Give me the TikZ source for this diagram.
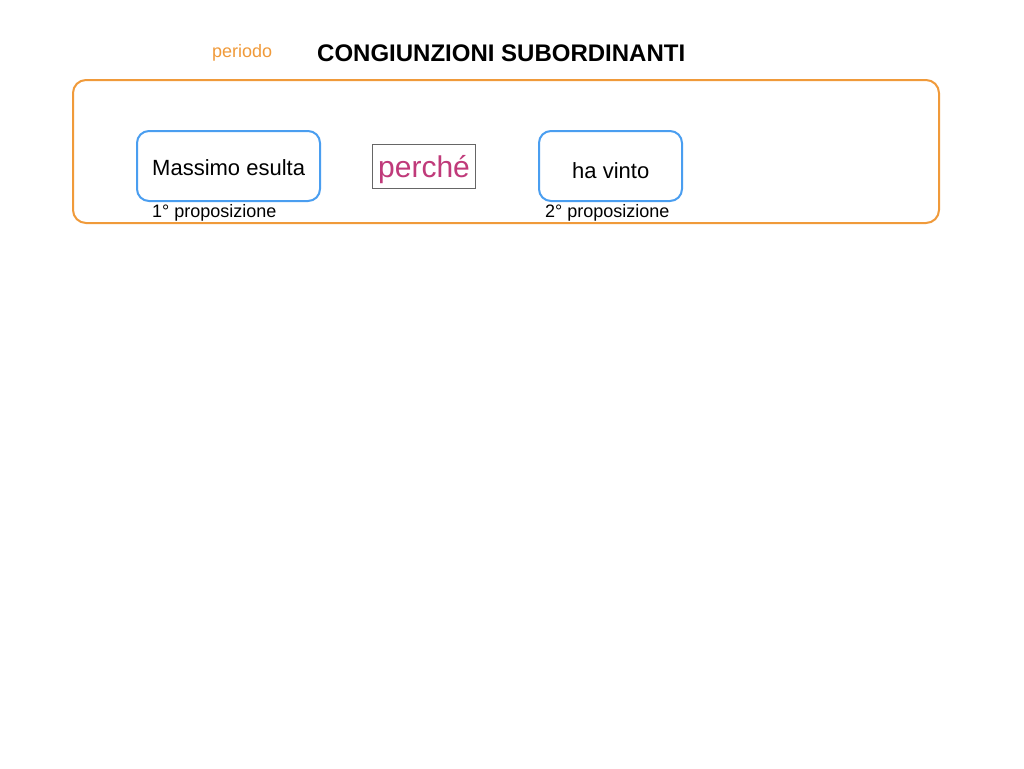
\documentclass[tikz,border=0pt]{standalone}
\usepackage{fontspec}
\setmainfont{Liberation Sans}
\begin{document}
\begin{tikzpicture}[x=1pt,y=-1pt,
  txt/.style={inner sep=0pt,anchor=base west},
  prop/.style={draw=propblue,line width=2pt,rounded corners=12pt},
  per/.style={draw=perorange,line width=2pt,rounded corners=13pt}]
\definecolor{propblue}{HTML}{4A9EF0}
\definecolor{perorange}{HTML}{F09A3A}
\definecolor{conjmag}{HTML}{C03A7A}
\useasboundingbox (0,0) rectangle (1024,768);
\fill[white] (0,0) rectangle (1024,768);
\node[txt,text=perorange,font=\fontsize{18}{20}\selectfont] (lbl) at (212,57) {periodo};
\node[txt,font=\fontsize{24}{26}\selectfont\bfseries] (title) at (317,62) {CONGIUNZIONI SUBORDINANTI};
\draw[per] (73,80) rectangle (939,223);
\draw[prop] (137,131) rectangle (320,201);
\draw[prop] (539,131) rectangle (682,201);
\node[txt,font=\fontsize{22}{24}\selectfont] (p1) at (152,175) {Massimo esulta};
\node[txt,font=\fontsize{22}{24}\selectfont] (p2) at (572,178) {ha vinto};
\draw[draw=black!60,line width=1pt] (372,144) rectangle (475,188);
\node[txt,text=conjmag,font=\fontsize{30}{32}\selectfont] (cong) at (378,177) {perché};
\node[txt,font=\fontsize{18}{20}\selectfont] (l1) at (152,217) {1° proposizione};
\node[txt,font=\fontsize{18}{20}\selectfont] (l2) at (545,217) {2° proposizione};
\end{tikzpicture}
\end{document}
